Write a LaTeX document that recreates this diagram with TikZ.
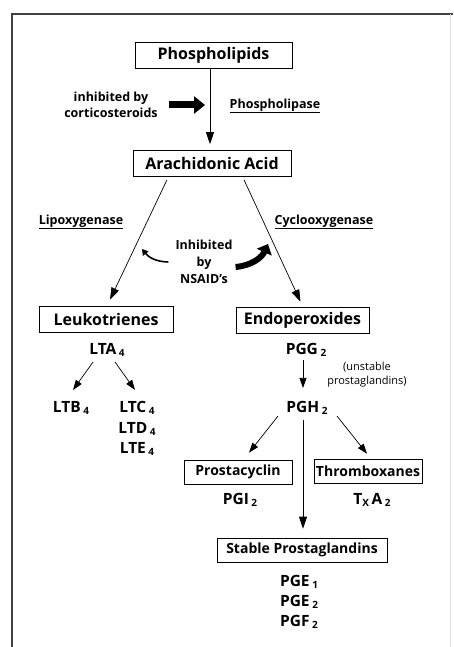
\documentclass[tikz,border=0pt]{standalone}
\usepackage{fontspec}
\setmainfont{Open Sans}
\usetikzlibrary{arrows.meta,calc}
\tikzset{
  box/.style={draw, line width=0.6pt, inner xsep=2pt, inner ysep=0pt, minimum height=26pt, font=\bfseries\fontsize{16}{18}\selectfont},
  lowbox/.style={box, minimum height=24pt, font=\bfseries\fontsize{14}{16}\selectfont},
  chem/.style={font=\bfseries\fontsize{15.5}{18}\selectfont, inner sep=1pt},
  enzyme/.style={font=\bfseries\fontsize{12.5}{16}\selectfont, inner sep=1pt},
  flow/.style={line width=0.7pt, -{Triangle[length=12pt,width=8pt]}},
  smallflow/.style={line width=0.7pt, -{Triangle[length=10pt,width=7pt]}}
}
\newcommand{\sub}[1]{\,\raisebox{-2.5pt}{\fontsize{10}{10}\selectfont #1}}
\begin{document}
\begin{tikzpicture}[x=1pt, y=-1pt]
			%%%%% START %%%%%
			\useasboundingbox (0, 0) rectangle (453, 647);
			
			% frame
			\draw[line width=1.2pt, black!75] (12, 647) -- (12, 14) -- (453, 14);
			\draw[line width=0.5pt, black!12] (450, 14) -- (450, 647);
			
			% boxes
			\node[box, minimum width=157pt] (phos) at (213.5, 55) {Phospholipids};
			\node[box, minimum width=158pt] (arach) at (212, 163.5) {Arachidonic Acid};
			\node[box, minimum width=134pt] (leuko) at (106, 319) {Leukotrienes};
			\node[box, minimum width=133pt] (endo) at (302.5, 320) {Endoperoxides};
			\node[lowbox, minimum width=108pt] (prosta) at (238, 472) {Prostacyclin};
			\node[lowbox, minimum width=108pt] (thromb) at (368, 471) {Thromboxanes};
			\node[lowbox, minimum width=170pt] (stable) at (302, 550) {Stable Prostaglandins};
			
			% enzymes and inhibitors
			\node[enzyme, align=center] (cortico) at (111, 105) {inhibited by\\corticosteroids};
			\node[enzyme] (phlase) at (275, 106) {\underline{Phospholipase}};
			\node[enzyme] (lipox) at (81, 222) {\underline{Lipoxygenase}};
			\node[enzyme] (cyclox) at (324, 222) {\underline{Cyclooxygenase}};
			\node[enzyme, align=center, font=\bfseries\fontsize{12.5}{17}\selectfont] (nsaid) at (204, 262) {Inhibited\\by\\NSAID's};
			\node[font=\fontsize{11}{14}\selectfont, align=center, inner sep=1pt] (unstable) at (367, 375) {(unstable\\prostaglandins)};
			
			% compounds
			\node[chem] (lta) at (107, 350) {LTA\sub{4}};
			\node[chem] (ltb) at (71, 408) {LTB\sub{4}};
			\node[chem] (ltc) at (137, 408) {LTC\sub{4}};
			\node[chem] (ltd) at (137, 429) {LTD\sub{4}};
			\node[chem] (lte) at (137, 449) {LTE\sub{4}};
			\node[chem] (pgg) at (306, 350) {PGG\sub{2}};
			\node[chem] (pgh) at (307, 408) {PGH\sub{2}};
			\node[chem] (pgi) at (240, 500) {PGI\sub{2}};
			\node[chem] (txa) at (372, 500) {T\raisebox{-2.5pt}{\fontsize{10}{10}\selectfont X}\,A\sub{2}};
			\node[chem] (pge1) at (299, 582) {PGE\sub{1}};
			\node[chem] (pge2) at (299, 602) {PGE\sub{2}};
			\node[chem] (pgf2) at (299, 622) {PGF\sub{2}};
			
			% main pathway
			\draw[flow] (phos.south -| 210, 0) -- ($(arach.north -| 210, 0)+(0, -6)$);
			\draw[flow] ($(arach.south)+(-45, 3)$) -- ($(leuko.north)+(4, -6)$);
			\draw[flow] ($(arach.south)+(32, 3)$) -- ($(endo.north)+(-2, -5)$);
			\draw[smallflow] ($(lta.south)+(-14, 4)$) -- ($(ltb.north)+(2, -10)$);
			\draw[smallflow] ($(lta.south)+(8, 4)$) -- ($(ltc.north)+(-2, -10)$);
			\draw[smallflow] ($(pgg.south -| 303, 0)+(0, 2)$) -- ($(pgh.north -| 303, 0)+(0, -12)$);
			\draw[smallflow] ($(pgh.south)+(-29, 0)$) -- ($(prosta.north)+(11, -7)$);
			\draw[smallflow] ($(pgh.south)+(30, 0)$) -- ($(thromb.north)+(-1, -5)$);
			\draw[flow] ($(pgh.south -| 303, 0)+(0, 4)$) -- ($(stable.north -| 303, 0)+(0, -9)$);
			
			% inhibition arrows
			\draw[line width=7pt, -{Triangle[length=11pt,width=17pt]}] (169, 105) -- (205, 105);
			\draw[line width=1.6pt, -{Triangle[length=6pt,width=7pt]}] ($(nsaid.west)+(-6, 0)$) to[bend left=25] (142, 249);
			\draw[line width=6pt, -{Triangle[length=9pt,width=16pt]}] ($(nsaid.east)+(2, 5)$) to[bend right=30] (268, 244);
			
			%%%%% END %%%%%
		\end{tikzpicture}
\end{document}
